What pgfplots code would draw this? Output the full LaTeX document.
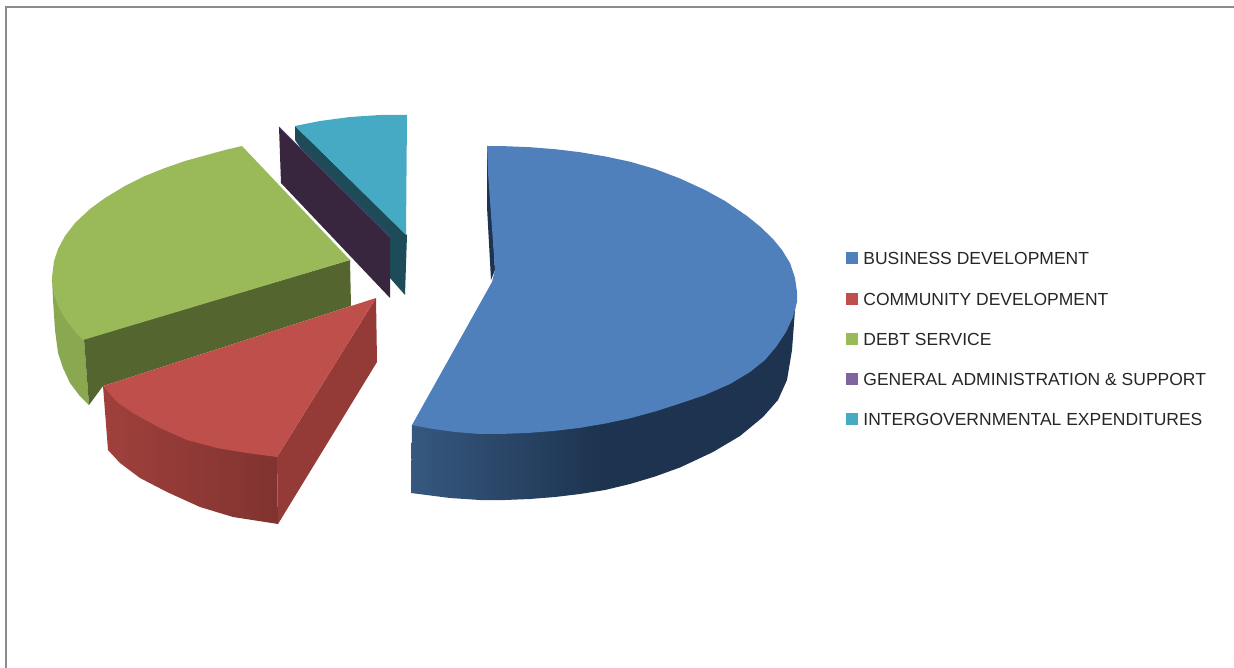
\documentclass[border=0pt]{standalone}
\usepackage{pgfplots}
\usepackage{fontspec}
\setmainfont{Liberation Sans}
\pgfplotsset{compat=1.18}
\definecolor{blueT}{HTML}{4F80BC}
\definecolor{redT}{HTML}{BE4F4B}
\definecolor{greenT}{HTML}{9ABA59}
\definecolor{purpleT}{HTML}{8064A2}
\definecolor{tealT}{HTML}{46AAC4}
\definecolor{greenD}{HTML}{55652F}
\definecolor{greenS}{HTML}{8AA850}
\definecolor{redS}{HTML}{943A37}
\definecolor{redL}{HTML}{A0403C}
\definecolor{redR}{HTML}{803330}
\definecolor{purpleD}{HTML}{38263F}
\definecolor{tealD}{HTML}{1D4B57}
\definecolor{blueD}{HTML}{1D334F}
\definecolor{blueL}{HTML}{36587F}
\definecolor{frame}{HTML}{8C8C8C}
% side walls get darker to the right (path bbox sits in the middle 50bp)
\pgfdeclarehorizontalshading{blueside}{100bp}{color(0bp)=(blueL); color(25bp)=(blueL); color(50bp)=(blueD); color(100bp)=(blueD)}
\pgfdeclarehorizontalshading{redside}{100bp}{color(0bp)=(redL); color(25bp)=(redL); color(75bp)=(redR); color(100bp)=(redR)}
\begin{document}
\begin{tikzpicture}
\begin{axis}[
    width=1234pt, height=668pt, scale only axis,
    xmin=0, xmax=1234, ymin=0, ymax=668, y dir=reverse,
    xtick=\empty, ytick=\empty, axis line style={draw=none},
    legend style={at={(axis cs:846,249.5)}, anchor=north west, draw=none, fill=none,
        font=\fontsize{17.5}{18}\selectfont, row sep=23.3pt, inner sep=0pt,
        nodes={text height=13pt, text depth=0pt, inner sep=2pt, text=black!85}},
    legend cell align=left,
    legend image code/.code={\fill[#1,draw=none] (1pt,-6pt) rectangle (13pt,6pt); \path (16pt,0pt);},
]
% frame
\addplot[frame, line width=1.6pt, forget plot] coordinates {(6,668) (6,7) (1234,7)};

% teal slice
\addplot[fill=tealD, draw=none, forget plot] coordinates {(295,126) (407,235) (405,295) (390,278) (295,140)};
\addplot[fill=tealT, draw=none, forget plot] coordinates {(295,126) (320,121) (350,117) (380,115) (407,115) (406,235)};
% purple slice
\addplot[fill=purpleD, draw=none, forget plot] coordinates {(279,127) (390,237) (390,298) (281,183)};
\addplot[purpleT!45!purpleD, line width=0.8pt, forget plot] coordinates {(279,127) (390,237)};

% green slice
\addplot[fill=greenS, draw=none, forget plot] coordinates {(52,277) (53,300) (55,330) (58,353) (63,368) (70,383) (79,395) (89,405) (84,339)};
\addplot[fill=greenD, draw=none, forget plot] coordinates {(84,339) (350,260) (351,306) (103,386) (89,405)};
\addplot[fill=greenT, draw=none, forget plot] coordinates {(242,146) (225,150) (205,155.5) (185,161) (165,168) (145,176) (125,186) (105,198) (90,209) (75,223) (65,236) (58,249) (54,261) (52,277) (54,293.6) (58,305.5) (65,318.4) (75,331.7) (83,340) (350,260)};

% red slice
\addplot[shading=redside, draw=none, forget plot] coordinates {(103,386) (108,450) (120,463) (140,478) (167,492) (200,507) (233,517) (278,524) (277,457)};
\addplot[fill=redS, draw=none, forget plot] coordinates {(277,457) (376,298) (377,362) (278,524)};
\addplot[fill=redT, draw=none, forget plot] coordinates {(103,386) (117,402) (133,413) (160,428) (187,440) (217,448) (247,453) (277,457) (376,298)};

% blue slice
\addplot[fill=blueD, draw=none, forget plot] coordinates {(487,146) (487,207) (491,280) (495,270) (490,180) (488,146)};
\addplot[shading=blueside, draw=none, forget plot] coordinates {(412,425) (411,493) (450,498) (480,500) (505,500) (530,499) (555,497) (580,494) (605,490) (630,484) (655,476.5) (680,467.5) (713,452) (740,436) (763,417) (778,400) (787,380) (792,350) (795,310) (796,300) (500,430)};
\addplot[fill=blueT, draw=none, forget plot] coordinates {(487,146) (505,146.2) (530,147.2) (555,149.2) (580,152.2) (605,156.4) (630,161.7) (655,169) (680,178.5) (705,190) (725,201) (747,216) (760,226.5) (773,239) (782,250) (790,263) (795,278) (797,292) (797,302) (793,317) (786,332) (776,347) (765,360) (750,372) (730,384) (705,395) (680,403.5) (655,411.5) (630,418.3) (605,423.6) (580,427.8) (555,430.8) (530,432.8) (505,433.8) (480,434) (455,432) (430,428.5) (412,425) (492,282) (495,270) (488,173)};

\addlegendimage{fill=blueT}
\addlegendentry{BUSINESS DEVELOPMENT}
\addlegendimage{fill=redT}
\addlegendentry{COMMUNITY DEVELOPMENT}
\addlegendimage{fill=greenT}
\addlegendentry{DEBT SERVICE}
\addlegendimage{fill=purpleT}
\addlegendentry{GENERAL ADMINISTRATION \& SUPPORT}
\addlegendimage{fill=tealT}
\addlegendentry{INTERGOVERNMENTAL EXPENDITURES}
\end{axis}
\end{tikzpicture}
\end{document}
